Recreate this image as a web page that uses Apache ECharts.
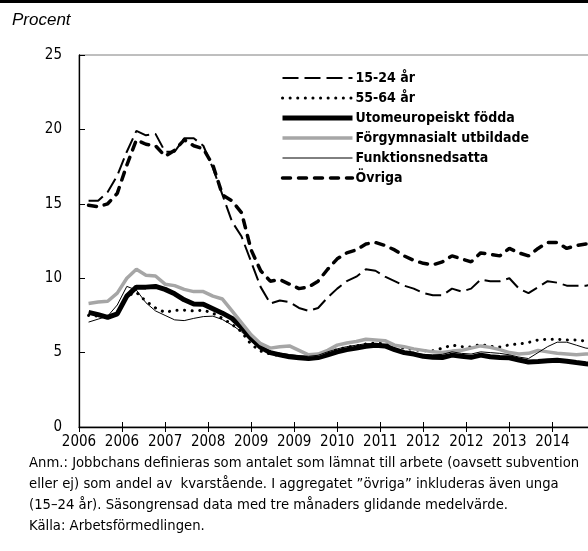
<!DOCTYPE html>
<html>
<head>
<meta charset="utf-8">
<script src="https://cdn.jsdelivr.net/npm/echarts@6/dist/echarts.min.js"></script>
<style>
html, body { margin: 0; padding: 0; background: #fff; }
#main { width: 588px; height: 551px; }
</style>
</head>
<body>
<div id="main"></div>
<script>
// månader räknat från jan 2006 (var annan månad)
var months = Array.from({ length: 54 }, function (_, i) { return 2 + 2 * i; });
var tickLabels = ["2006", "2006", "2007", "2008", "2009", "2009", "2010", "2011", "2012", "2012", "2013", "2014"];

var unga = [15.2, 15.2, 15.8, 16.9, 18.5, 19.9, 19.6, 19.7, 18.5, 18.5,
  19.4, 19.4, 18.9, 17.4, 15.6, 13.8, 12.8, 11.1, 9.4, 8.3,
  8.5, 8.4, 8.0, 7.8, 8.0, 8.7, 9.3, 9.8, 10.1, 10.6,
  10.5, 10.1, 9.8, 9.5, 9.3, 9.0, 8.85, 8.85, 9.3, 9.1,
  9.3, 9.9, 9.8, 9.8, 10.0, 9.3, 9.0, 9.4, 9.8, 9.7,
  9.5, 9.5, 9.5, 9.6];
var aldre = [7.5, 7.45, 7.4, 7.7, 8.8, 9.05, 8.45, 8.0, 7.7, 7.85,
  7.85, 7.8, 7.85, 7.65, 7.3, 6.9, 6.4, 5.55, 5.1, 4.9,
  4.8, 4.7, 4.7, 4.65, 4.78, 5.0, 5.2, 5.35, 5.45, 5.58,
  5.65, 5.6, 5.45, 5.3, 5.2, 5.12, 5.12, 5.3, 5.5, 5.4,
  5.38, 5.55, 5.42, 5.38, 5.52, 5.58, 5.68, 5.85, 5.9, 5.9,
  5.85, 5.84, 5.78, 5.72];
var utomeuropeiskt = [7.7, 7.55, 7.37, 7.6, 8.8, 9.4, 9.4, 9.45, 9.25, 8.95,
  8.55, 8.27, 8.25, 7.95, 7.65, 7.3, 6.7, 5.95, 5.35, 5.0,
  4.85, 4.72, 4.65, 4.6, 4.67, 4.85, 5.05, 5.2, 5.3, 5.42,
  5.5, 5.45, 5.2, 5.0, 4.9, 4.75, 4.68, 4.67, 4.83, 4.75,
  4.68, 4.83, 4.72, 4.67, 4.65, 4.5, 4.37, 4.4, 4.45, 4.48,
  4.42, 4.33, 4.25, 4.2];
var forgymnasialt = [8.3, 8.4, 8.45, 9.0, 10.0, 10.6, 10.2, 10.15, 9.6, 9.5,
  9.25, 9.1, 9.1, 8.8, 8.6, 7.8, 7.0, 6.2, 5.6, 5.3,
  5.4, 5.45, 5.15, 4.85, 4.9, 5.15, 5.5, 5.65, 5.75, 5.9,
  5.85, 5.8, 5.5, 5.4, 5.25, 5.15, 5.05, 5.0, 5.1, 5.15,
  5.3, 5.45, 5.35, 5.2, 5.0, 4.9, 4.95, 5.15, 5.05, 4.95,
  4.9, 4.85, 4.9, 4.9];
var funktion = [7.05, 7.25, 7.45, 8.2, 9.45, 9.2, 8.35, 7.8, 7.5, 7.2,
  7.15, 7.3, 7.42, 7.45, 7.22, 6.85, 6.4, 5.75, 5.3, 5.05,
  4.97, 4.87, 4.8, 4.75, 4.82, 5.05, 5.25, 5.4, 5.5, 5.6,
  5.6, 5.5, 5.28, 5.07, 4.97, 4.88, 4.85, 4.88, 5.05, 4.95,
  4.9, 5.05, 5.0, 4.95, 4.85, 4.7, 4.6, 5.0, 5.4, 5.7,
  5.7, 5.5, 5.3, 5.25];
var ovriga = [14.9, 14.8, 15.0, 15.7, 17.6, 19.3, 19.0, 18.9, 18.2, 18.6,
  19.3, 18.9, 18.7, 17.6, 15.6, 15.2, 14.4, 11.9, 10.5, 9.8,
  9.9, 9.6, 9.3, 9.4, 9.8, 10.6, 11.3, 11.7, 11.9, 12.3,
  12.4, 12.2, 11.9, 11.5, 11.2, 11.0, 10.9, 11.1, 11.5, 11.3,
  11.1, 11.7, 11.6, 11.5, 12.0, 11.7, 11.5, 12.0, 12.4, 12.4,
  12.0, 12.2, 12.3, 12.3];

var FONT = "'Liberation Sans Narrow', 'DejaVu Sans Condensed', sans-serif";

// linjestilar, används både för serierna och legenden
var styles = {
  "15-24 år": { color: "#000", width: 2, type: [16, 6] },
  "55-64 år": { color: "#000", width: 3, type: [0.1, 7.5], cap: "round" },
  "Utomeuropeiskt födda": { color: "#000", width: 5 },
  "Förgymnasialt utbildade": { color: "#a6a6a6", width: 3.5 },
  "Funktionsnedsatta": { color: "#000", width: 1 },
  "Övriga": { color: "#000", width: 3.5, type: [8, 8], cap: "round" }
};

function pairs(values) {
  return months.map(function (m, i) { return [m, values[i]]; });
}

function lineSeries(name, values) {
  return {
    name: name,
    type: "line",
    data: pairs(values),
    symbol: "none",
    silent: true,
    animation: false,
    itemStyle: { color: styles[name].color },
    lineStyle: styles[name]
  };
}

var legendNames = ["15-24 år", "55-64 år", "Utomeuropeiskt födda", "Förgymnasialt utbildade", "Funktionsnedsatta", "Övriga"];

var xBase = {
  type: "value",
  min: 0,
  max: 110,
  interval: 9,
  splitLine: { show: false },
  gridIndex: 0
};

var option = {
  animation: false,
  grid: {
    left: 79, top: 55, right: -17, bottom: 124,
    show: true, borderColor: "#7f7f7f", borderWidth: 1,
    outerBoundsMode: "none"
  },
  legend: {
    orient: "vertical",
    left: 280,
    top: 71,
    padding: 0,
    itemWidth: 70,
    itemHeight: 14,
    itemGap: 6,
    itemStyle: { opacity: 0 },
    textStyle: { fontFamily: FONT, fontWeight: "bold", fontSize: 14, lineHeight: 14, color: "#000", padding: [0, 0, 0, -2] },
    data: legendNames.map(function (n) {
      return { name: n, lineStyle: styles[n], itemStyle: { opacity: 0 } };
    })
  },
  xAxis: [
    Object.assign({}, xBase, {
      axisLine: { lineStyle: { color: "#000", width: 1.3 } },
      axisTick: { show: true, length: 5, lineStyle: { color: "#000" } },
      axisLabel: {
        fontFamily: FONT, fontSize: 15, color: "#000", margin: 8,
        formatter: function (v) {
          var k = v / 9;
          return k < tickLabels.length ? tickLabels[k] : "";
        }
      }
    }),
    // inre tickmarkeringar så att de korsar axeln
    Object.assign({}, xBase, {
      position: "bottom",
      axisLine: { show: false },
      axisTick: { show: true, inside: true, length: 5, lineStyle: { color: "#000" } },
      axisLabel: { show: false }
    })
  ],
  yAxis: {
    type: "value",
    min: 0,
    max: 25,
    interval: 5,
    splitLine: { show: false },
    axisLine: { show: true, lineStyle: { color: "#000", width: 1.3 } },
    axisTick: { show: true, inside: true, length: 6, lineStyle: { color: "#000" } },
    axisLabel: { fontFamily: FONT, fontSize: 15, color: "#000", margin: 17 }
  },
  series: [
    lineSeries("15-24 år", unga),
    lineSeries("55-64 år", aldre),
    lineSeries("Utomeuropeiskt födda", utomeuropeiskt),
    lineSeries("Förgymnasialt utbildade", forgymnasialt),
    lineSeries("Funktionsnedsatta", funktion),
    lineSeries("Övriga", ovriga)
  ],
  graphic: [
    { type: "rect", left: 0, top: 0, shape: { width: 588, height: 3 }, style: { fill: "#000" } },
    {
      type: "text", left: 12, top: 12,
      style: { text: "Procent", font: "italic 17px 'Liberation Sans', Arial, sans-serif", fill: "#000" }
    },
    {
      type: "text", left: 29, top: 453,
      style: {
        text: "Anm.: Jobbchans definieras som antalet som lämnat till arbete (oavsett subvention\n" +
          "eller ej) som andel av  kvarstående. I aggregatet \u201dövriga\u201d inkluderas även unga\n" +
          "(15\u201324 år). Säsongrensad data med tre månaders glidande medelvärde.\n" +
          "Källa: Arbetsförmedlingen.",
        font: "14.7px " + FONT,
        lineHeight: 21,
        fill: "#000"
      }
    }
  ]
};

var myChart = echarts.init(document.getElementById("main"));
myChart.setOption(option);
</script>
</body>
</html>
